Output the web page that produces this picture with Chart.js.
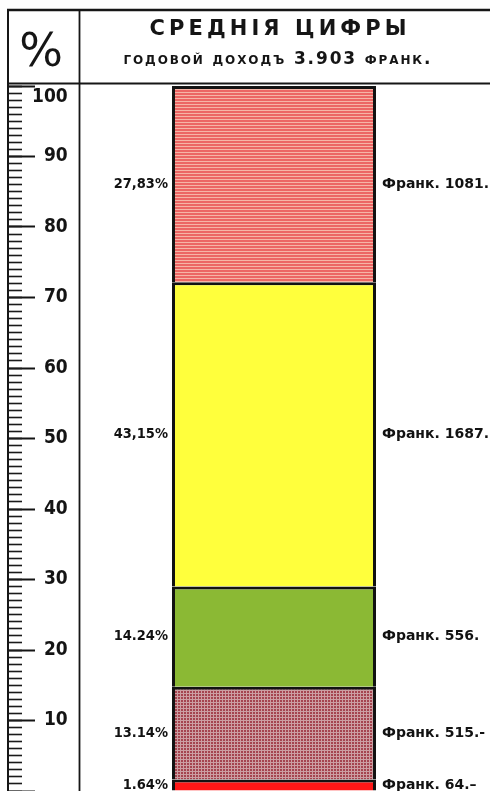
<!DOCTYPE html>
<html>
<head>
<meta charset="utf-8">
<script src="https://cdn.jsdelivr.net/npm/chart.js@4.4.1/dist/chart.umd.min.js"></script>
<style>
html,body{margin:0;padding:0;background:#fff;overflow:hidden;width:490px;height:791px}
#wrap{position:relative;width:540px;height:791px}
</style>
</head>
<body>
<div id="wrap"><canvas id="c"></canvas></div>
<script>
// ---- data (bottom segment first) ----
const categories = ['Годовой доходъ'];
const shares = [1.64, 13.14, 14.24, 43.15, 27.83];
const shareLabels = ['1.64%', '13.14%', '14.24%', '43,15%', '27,83%'];
const francs = [64, 515, 556, 1687, 1081];
const francLabels = ['Франк. 64.–', 'Франк. 515.-', 'Франк. 556.', 'Франк. 1687.', 'Франк. 1081.'];
const yMajorStep = 10;
const yMinorStep = 1;
const titleText = 'СРЕДНІЯ ЦИФРЫ';
const subtitleText = 'годовой доходъ 3.903 франк.';
const unitText = '%';

// ---- fills ----
const ctxMain = document.getElementById('c').getContext('2d');
function stripePattern() {
  const c = document.createElement('canvas'); c.width = 4; c.height = 3;
  const x = c.getContext('2d');
  x.fillStyle = '#f6b4a6'; x.fillRect(0, 0, 4, 3);
  x.fillStyle = '#ec6664'; x.fillRect(0, 0, 4, 2);
  return ctxMain.createPattern(c, 'repeat');
}
function gridPattern() {
  const c = document.createElement('canvas'); c.width = 3; c.height = 3;
  const x = c.getContext('2d');
  x.fillStyle = '#a5444f'; x.fillRect(0, 0, 3, 3);
  x.fillStyle = '#cc9ea2'; x.fillRect(0, 0, 3, 1); x.fillRect(0, 0, 1, 3);
  return ctxMain.createPattern(c, 'repeat');
}
const fills = ['#fe1717', gridPattern(), '#8bb934', '#ffff3c', stripePattern()];

const datasets = shares.map((v, i) => ({
  label: francLabels[i],
  data: [v],
  backgroundColor: fills[i],
  borderColor: '#121212',
  borderWidth: {top: 3, left: 3, right: 3, bottom: 0},
  borderSkipped: false,
  stack: 's'
}));

function spacedText(ctx, text, cx, y, targetW) {
  const chars = [...text];
  const ws = chars.map(ch => ctx.measureText(ch).width);
  const natural = ws.reduce((a, b) => a + b, 0);
  const gap = chars.length > 1 ? (targetW - natural) / (chars.length - 1) : 0;
  let x = cx - targetW / 2;
  chars.forEach((ch, i) => { ctx.fillText(ch, x, y); x += ws[i] + gap; });
}

const labelPlugin = {
  id: 'segLabels',
  afterDatasetsDraw(chart) {
    const ctx = chart.ctx;
    ctx.save();
    ctx.fillStyle = '#121212';
    ctx.textBaseline = 'middle';
    chart.data.datasets.forEach((ds, i) => {
      const el = chart.getDatasetMeta(i).data[0];
      const yMid = (el.y + el.base) / 2;
      const left = el.x - el.width / 2, right = el.x + el.width / 2;
      ctx.font = 'bold 14.5px "DejaVu Sans Condensed", "DejaVu Sans", sans-serif';
      ctx.textAlign = 'right';
      ctx.fillText(shareLabels[i], left - 4, yMid);
      ctx.font = 'bold 14px "DejaVu Sans", sans-serif';
      ctx.textAlign = 'left';
      ctx.fillText(francLabels[i], right + 6, yMid);
    });
    ctx.restore();
  }
};

const framePlugin = {
  id: 'frame',
  afterDraw(chart) {
    const ctx = chart.ctx;
    const H = chart.height, W = chart.width;
    const top = 10, headBottom = chart.chartArea.top - 2.5;
    const axisX = chart.scales.y.right;
    const divX = 79.5;
    ctx.save();
    ctx.strokeStyle = '#161616';
    ctx.lineWidth = 2.5;
    ctx.beginPath(); ctx.moveTo(axisX - 1, top); ctx.lineTo(W, top); ctx.stroke();
    ctx.lineWidth = 2;
    ctx.beginPath(); ctx.moveTo(axisX - 1, headBottom); ctx.lineTo(W, headBottom); ctx.stroke();
    ctx.beginPath(); ctx.moveTo(axisX, top); ctx.lineTo(axisX, H); ctx.stroke();
    ctx.lineWidth = 1.8;
    ctx.beginPath(); ctx.moveTo(divX, top); ctx.lineTo(divX, H); ctx.stroke();
    // header text
    ctx.fillStyle = '#151515';
    ctx.textBaseline = 'middle';
    ctx.textAlign = 'left';
    ctx.font = 'bold 21px "DejaVu Sans", sans-serif';
    spacedText(ctx, titleText, 278, 30, 257);
    ctx.font = 'small-caps bold 17px "DejaVu Sans", sans-serif';
    spacedText(ctx, subtitleText, 277, 60, 307);
    ctx.textAlign = 'center';
    ctx.textBaseline = 'alphabetic';
    ctx.font = '46px "DejaVu Sans", sans-serif';
    ctx.fillText(unitText, 41, 66);
    ctx.restore();
  }
};

const zeroPad = s => { s.width = 0; s.paddingTop = 0; s.paddingBottom = 0; s.paddingLeft = 0; s.paddingRight = 0; };

new Chart(ctxMain, {
  type: 'bar',
  data: {labels: categories, datasets},
  options: {
    responsive: true,
    maintainAspectRatio: false,
    animation: false,
    layout: {padding: {top: 86, left: 8, right: 0, bottom: 0}},
    datasets: {bar: {barPercentage: 1, categoryPercentage: 0.3835}},
    plugins: {legend: {display: false}, tooltip: {enabled: false}},
    scales: {
      x: {display: false, stacked: true},
      y: {
        stacked: true, position: 'left', min: 0, max: 100,
        afterFit: zeroPad,
        border: {display: true, color: '#141414', width: 2},
        grid: {drawOnChartArea: false, drawTicks: true, tickLength: -27, tickWidth: 2, color: '#141414'},
        ticks: {
          stepSize: yMajorStep, mirror: true, crossAlign: 'far', padding: 24, color: '#141414',
          font: {family: '"Liberation Sans Narrow", "DejaVu Sans Condensed", sans-serif', weight: 'bold', size: 19},
          callback: v => v === 0 ? '' : (v === 100 ? ['', String(v)] : String(v))
        }
      },
      yMinor: {
        position: 'left', min: 0, max: 100,
        afterFit: zeroPad,
        border: {display: false},
        grid: {drawOnChartArea: false, drawTicks: true, tickLength: -14, tickWidth: 1.6, color: '#1a1a1a'},
        ticks: {stepSize: yMinorStep, maxTicksLimit: 200, display: false}
      }
    }
  },
  plugins: [labelPlugin, framePlugin]
});
</script>
</body>
</html>
